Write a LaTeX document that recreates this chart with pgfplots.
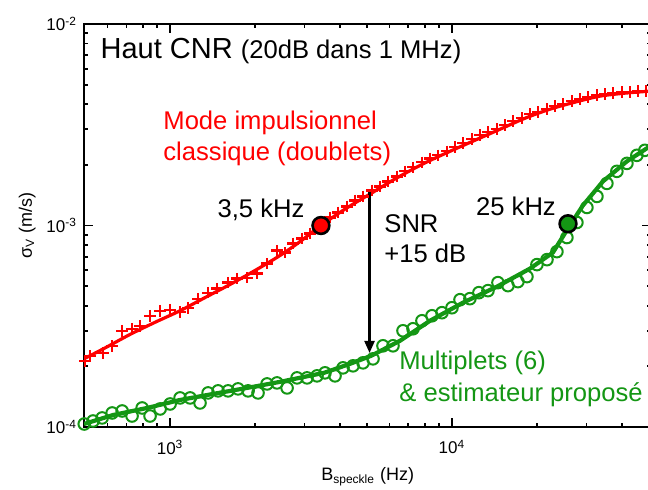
\documentclass[border=0pt]{standalone}
\usepackage{fontspec}
\setmainfont{Liberation Sans}
\usepackage{pgfplots}
\pgfplotsset{compat=1.18}
\usetikzlibrary{arrows.meta}
\definecolor{mgreen}{RGB}{20,150,20}
\definecolor{mred}{RGB}{255,0,0}
\begin{document}
\begin{tikzpicture}
\begin{axis}[
  name=ax,
  scale only axis, width=283.7pt, height=201.5pt,
  xmode=log, ymode=log,
  xmin=495, xmax=51000, ymin=1e-4, ymax=1e-2,
  xtick={1000,10000}, xticklabels={10\textsuperscript{3},10\textsuperscript{4}},
  ytick={1e-4,1e-3,1e-2}, yticklabels={10\textsuperscript{-4},10\textsuperscript{-3},10\textsuperscript{-2}},
  minor xtick={600,700,800,900,2000,3000,4000,5000,6000,7000,8000,9000,20000,30000,40000,50000},
  minor ytick={2e-4,3e-4,4e-4,5e-4,6e-4,7e-4,8e-4,9e-4,2e-3,3e-3,4e-3,5e-3,6e-3,7e-3,8e-3,9e-3},
  xtick pos=both, ytick pos=both, xticklabel pos=lower, yticklabel pos=left,
  tick align=inside,
  major tick length=4.5pt, minor tick length=2.2pt,
  axis line style={line width=1.1pt},
  every tick/.style={black, line width=0.9pt},
  ticklabel style={font=\fontsize{8.5}{10}\selectfont},
  xticklabel style={yshift=-3pt},
  xlabel={B\textsubscript{speckle} (Hz)},
  ylabel={σ\textsubscript{V} (m/s)},
  label style={font=\fontsize{9}{10}\selectfont},
  ylabel shift=-1.5pt,
]
% red fitted line
\addplot[mred, line width=1.6pt, no marks, smooth] coordinates {
(495,2.179e-4) (598,2.5e-4) (721,2.88e-4) (885,3.31e-4) (1085,3.777e-4) (1331,4.39e-4)
(1633,5.1e-4) (2001,5.98e-4) (2455,7.1e-4) (2891,8.32e-4) (3428,1.0e-3) (4209,1.215e-3)
(5164,1.443e-3) (6330,1.713e-3) (7962,2.034e-3) (9838,2.334e-3) (12060,2.648e-3) (14800,3.003e-3)
(18160,3.407e-3) (22260,3.777e-3) (27310,4.093e-3) (33480,4.384e-3) (41070,4.537e-3) (50370,4.642e-3)
};
% red crosses
\addplot[mred, only marks, mark=+, mark size=2.9pt, mark options={line width=1.15pt}] coordinates {
(500,2.130e-4) (520,2.255e-4) (579,2.334e-4) (623,2.529e-4) (676,3.003e-4) (733,3.073e-4)
(783,3.18e-4) (849,3.566e-4) (922,3.777e-4) (1000,3.82e-4) (1085,3.734e-4) (1158,3.908e-4)
(1257,4.334e-4) (1364,4.642e-4) (1468,4.860e-4) (1606,5.206e-4) (1729,5.45e-4) (1875,5.51e-4)
(2034,5.77e-4) (2208,6.47e-4) (2395,7.51e-4) (2557,7.34e-4) (2731,8.14e-4) (2939,8.62e-4)
(3137,9.13e-4) (3693,1.096e-3) (3944,1.161e-3) (4244,1.243e-3) (4529,1.331e-3) (4836,1.394e-3)
(5204,1.494e-3) (5557,1.563e-3) (5929,1.655e-3) (6383,1.753e-3) (6812,1.857e-3) (7273,1.944e-3)
(7827,2.058e-3) (8356,2.154e-3) (8919,2.23e-3) (9601,2.334e-3) (10250,2.444e-3) (10940,2.559e-3)
(11770,2.679e-3) (12570,2.804e-3) (13420,2.902e-3) (14440,3.003e-3) (15420,3.144e-3) (16460,3.292e-3)
(17710,3.407e-3) (18910,3.566e-3) (20180,3.649e-3) (21730,3.777e-3) (23190,3.908e-3) (24750,4.0e-3)
(26640,4.14e-3) (28440,4.236e-3) (30360,4.334e-3) (32680,4.435e-3) (34880,4.486e-3) (37240,4.537e-3)
(40070,4.589e-3) (42780,4.589e-3) (45660,4.642e-3) (48750,4.642e-3)
};
% green fitted line
\addplot[mgreen, line width=2.1pt, no marks] coordinates {
(495,1.035e-4) (628,1.147e-4) (829,1.243e-4) (1085,1.362e-4) (1420,1.459e-4) (1875,1.563e-4)
(2455,1.675e-4) (3516,1.857e-4) (4349,2.058e-4) (5164,2.255e-4) (6542,2.679e-4) (8356,3.368e-4)
(10940,4.14e-4) (14440,4.972e-4) (18910,6.11e-4) (22810,7.34e-4) (25780,9.66e-4) (29140,1.257e-3)
(34320,1.655e-3) (41750,2.082e-3) (50370,2.472e-3)
};
% green circles
\addplot[mgreen, only marks, mark=o, mark size=2.9pt, mark options={line width=1pt}] coordinates {
(496,1.035e-4) (533,1.071e-4) (574,1.109e-4) (623,1.174e-4) (676,1.201e-4) (733,1.134e-4)
(796,1.243e-4) (849,1.134e-4) (922,1.229e-4) (1000,1.301e-4) (1085,1.394e-4) (1178,1.394e-4)
(1277,1.316e-4) (1364,1.476e-4) (1480,1.511e-4) (1606,1.511e-4) (1742,1.546e-4) (1891,1.511e-4)
(2051,1.476e-4) (2208,1.636e-4) (2395,1.655e-4) (2600,1.563e-4) (2821,1.753e-4) (3061,1.753e-4)
(3321,1.794e-4) (3545,1.857e-4) (3847,1.794e-4) (4107,1.966e-4) (4456,2.012e-4) (4836,2.082e-4)
(5247,2.179e-4) (5692,2.529e-4) (6177,2.529e-4) (6703,3.003e-4) (7273,3.073e-4) (7827,3.368e-4)
(8496,3.566e-4) (9216,3.692e-4) (10000,3.908e-4) (10680,4.283e-4) (11580,4.334e-4) (12460,4.642e-4)
(13420,4.75e-4) (14560,5.206e-4) (15800,5.03e-4) (17140,5.266e-4) (18450,5.577e-4) (20020,6.397e-4)
(21730,6.77e-4) (23570,7.42e-4) (25570,8.716e-4) (27750,1.035e-3) (30110,1.229e-3) (32680,1.394e-3)
(35450,1.618e-3) (38470,1.857e-3) (41750,2.034e-3) (45290,2.23e-3) (48350,2.361e-3)
};
% highlighted points
\addplot[only marks, mark=*, mark size=4.2pt, mark options={draw=black, fill=mred, line width=1.3pt}] coordinates {(3430,1.0e-3)};
\addplot[only marks, mark=*, mark size=4.2pt, mark options={draw=black, fill=mgreen, line width=1.3pt}] coordinates {(25800,1.02e-3)};
% arrow
\draw[-{Triangle[length=6pt,width=5pt]}, line width=1.1pt] (axis cs:5100,1.49e-3) -- (axis cs:5100,2.33e-4);
% texts
\node[anchor=west, inner sep=0pt] at (axis cs:565,7.34e-3) {\fontsize{14.5}{16}\selectfont Haut CNR \fontsize{12.8}{15}\selectfont(20dB dans 1 MHz)};
\node[anchor=west, align=left, inner sep=0pt, text=mred, font=\fontsize{12.8}{15.5}\selectfont] at (axis cs:944,2.72e-3) {Mode impulsionnel\\classique (doublets)};
\node[inner sep=0pt, font=\fontsize{12.8}{15}\selectfont] at (axis cs:2102,1.2e-3) {3,5 kHz};
\node[inner sep=0pt, font=\fontsize{12.8}{15}\selectfont] at (axis cs:16870,1.243e-3) {25 kHz};
\node[anchor=west, align=left, inner sep=0pt, font=\fontsize{12.8}{15}\selectfont] at (axis cs:5741,8.62e-4) {SNR\\+15 dB};
\node[anchor=west, align=left, inner sep=0pt, text=mgreen, font=\fontsize{12.8}{16}\selectfont] at (axis cs:6486,1.733e-4) {Multiplets (6)\\\& estimateur proposé};
\end{axis}
\pgfresetboundingbox
\useasboundingbox ([shift={(-42pt,-31.5pt)}]ax.south west) rectangle ([shift={(282pt,12pt)}]ax.north west);
\end{tikzpicture}
\end{document}
